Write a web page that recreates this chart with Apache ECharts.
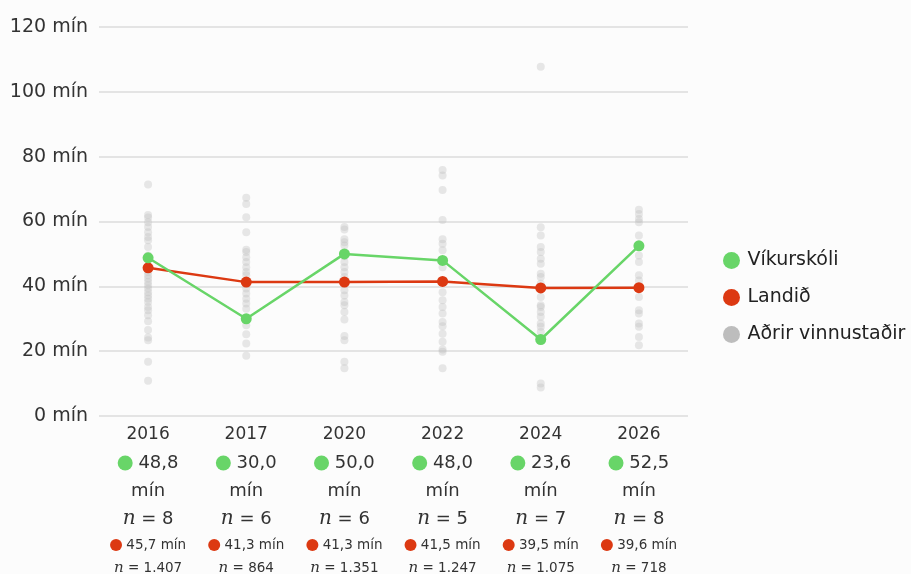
<!DOCTYPE html>
<html><head><meta charset="utf-8">
<script src="https://cdn.jsdelivr.net/npm/echarts@6/dist/echarts.min.js"></script>
<style>html,body{margin:0;padding:0;background:#fcfcfc}#c{width:911px;height:574px}</style>
</head><body><div id="c"></div>
<script>
const categories = ['2016','2017','2020','2022','2024','2026'];
const schoolName = 'Víkurskóli';
const nationalName = 'Landið';
const othersName = 'Aðrir vinnustaðir';
const schoolValues = [48.8, 30.0, 50.0, 48.0, 23.6, 52.5];
const schoolN = [8, 6, 6, 5, 7, 8];
const nationalValues = [45.7, 41.3, 41.3, 41.5, 39.5, 39.6];
const nationalN = [1407, 864, 1351, 1247, 1075, 718];
const others2016 = [71.4, 62, 61.2, 59.8, 58.3, 56.7, 55.2, 54.2, 52.1, 49.5, 44.4, 43.4, 42.4, 41.3, 40.3, 39.3, 38.2, 37.2, 36.2, 35.2, 33.6, 32.6, 31.1, 29.2, 26.5, 24.2, 23.4, 16.7, 10.9];
const others2017 = [67.3, 65.4, 61.3, 56.7, 51.3, 50.6, 49, 47.5, 45.9, 44.4, 43.4, 39.3, 37.8, 36.2, 34.7, 33.1, 28, 25.2, 22.4, 18.6];
const others2020 = [58.3, 57.5, 54.5, 53.6, 52.6, 49.3, 47.5, 45.9, 44.4, 42.9, 38.8, 37.2, 35.2, 34.2, 32.1, 29.8, 24.7, 23.4, 16.7, 14.7];
const others2022 = [75.9, 74.2, 69.7, 60.5, 54.5, 53.1, 51.1, 45.9, 41.3, 38.2, 35.7, 33.6, 31.6, 29, 27.7, 25.4, 22.9, 20.5, 19.8, 14.7];
const others2024 = [107.7, 58.2, 55.7, 52.1, 50.6, 48.5, 47, 43.9, 42.9, 40.8, 36.7, 34.2, 33.6, 32.1, 30.6, 28.5, 27.5, 25.9, 10, 8.8];
const others2026 = [63.6, 62.3, 60.8, 59.8, 55.7, 49.5, 47.5, 43.4, 41.8, 36.7, 32.6, 31.6, 28.5, 27.5, 24.4, 21.8];
const othersAll = [others2016, others2017, others2020, others2022, others2024, others2026];
const yTicks = {min: 0, max: 120, interval: 20};

const GREEN = '#68d568';
const RED = '#dc3912';
const FONT = '"DejaVu Sans", sans-serif';

function fmt1(v){ return v.toFixed(1).replace('.', ','); }
function fmtN(n){ return String(n).replace(/\B(?=(\d{3})+(?!\d))/g, '.'); }

const scatterData = [];
othersAll.forEach((arr, i) => arr.forEach(v => scatterData.push([i, v])));

const chart = echarts.init(document.getElementById('c'), null, {renderer: 'canvas'});
chart.setOption({
  backgroundColor: '#fcfcfc',
  animation: false,
  textStyle: {fontFamily: FONT},
  grid: {left: 99, right: 223, top: 27, bottom: 158, containLabel: false, outerBoundsMode: 'none'},
  legend: {
    orient: 'vertical', left: 718, top: 246, itemGap: 18,
    itemWidth: 22, itemHeight: 17, icon: 'circle',
    textStyle: {fontSize: 19, color: '#222', fontFamily: FONT},
    data: [
      {name: schoolName, itemStyle: {color: GREEN}},
      {name: nationalName, itemStyle: {color: RED}},
      {name: othersName, itemStyle: {color: '#bdbdbd', opacity: 1}}
    ]
  },
  xAxis: {
    type: 'category', data: categories, boundaryGap: true,
    axisLine: {show: false}, axisTick: {show: false},
    axisLabel: {
      interval: 0, margin: 4, color: '#333',
      formatter: (val, idx) => {
        return '{y|' + val + '}\n' +
          '{gd|}{gv| ' + fmt1(schoolValues[idx]) + '}\n' +
          '{gv|mín}\n' +
          '{ni|n}{gv| = ' + schoolN[idx] + '}\n' +
          '{rd|}{rv| ' + fmt1(nationalValues[idx]) + ' mín}\n' +
          '{nis|n}{rv| = ' + fmtN(nationalN[idx]) + '}';
      },
      rich: {
        y: {fontSize: 17, lineHeight: 29, color: '#333', fontFamily: FONT},
        gd: {width: 15, height: 15, borderRadius: 8, backgroundColor: GREEN, lineHeight: 28},
        gv: {fontSize: 18, lineHeight: 28, color: '#333', fontFamily: FONT},
        ni: {fontSize: 20, lineHeight: 28, color: '#333', fontStyle: 'italic', fontFamily: '"DejaVu Serif", serif'},
        rd: {width: 12, height: 12, borderRadius: 6, backgroundColor: RED, lineHeight: 24},
        rv: {fontSize: 13.5, lineHeight: 22, color: '#333', fontFamily: FONT},
        nis: {fontSize: 15, lineHeight: 22, color: '#333', fontStyle: 'italic', fontFamily: '"DejaVu Serif", serif'}
      }
    }
  },
  yAxis: {
    type: 'value', min: yTicks.min, max: yTicks.max, interval: yTicks.interval,
    axisLine: {show: false}, axisTick: {show: false},
    splitLine: {lineStyle: {color: '#dcdcdc', width: 1.5}},
    axisLabel: {formatter: '{value} mín', fontSize: 19, color: '#333', margin: 11, fontFamily: FONT}
  },
  series: [
    {
      name: othersName, type: 'scatter', data: scatterData, symbolSize: 8, z: 1,
      itemStyle: {color: 'rgba(190,190,190,0.45)'}
    },
    {
      name: nationalName, type: 'line', data: nationalValues, symbol: 'circle', symbolSize: 11, z: 3,
      lineStyle: {color: RED, width: 2.5}, itemStyle: {color: RED}
    },
    {
      name: schoolName, type: 'line', data: schoolValues, symbol: 'circle', symbolSize: 11, z: 4,
      lineStyle: {color: GREEN, width: 2.5}, itemStyle: {color: GREEN}
    }
  ]
});
</script>
</body></html>
